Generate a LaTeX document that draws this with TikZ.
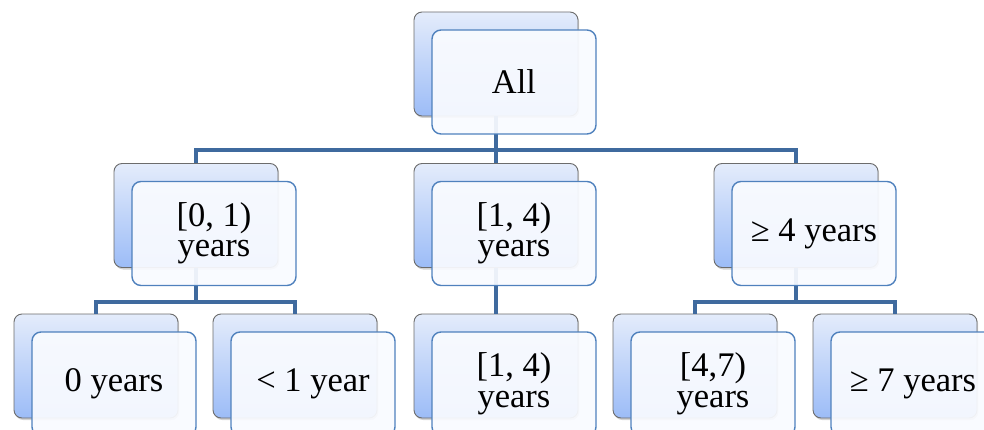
\documentclass[tikz,border=0pt]{standalone}
\usepackage{fontspec}
\setmainfont{Liberation Serif}
\usetikzlibrary{shadows}
\definecolor{connblue}{HTML}{3F6A9E}
\definecolor{frameblue}{HTML}{4F81BD}
\definecolor{shadetop}{HTML}{E4ECFB}
\definecolor{shadebot}{HTML}{9CBCF7}
\definecolor{frontfill}{HTML}{F9FBFF}
\tikzset{
  backbox/.style={rectangle, rounded corners=8pt, minimum width=164pt, minimum height=104pt,
    draw=gray!85!black, line width=0.9pt, top color=shadetop, bottom color=shadebot,
    drop shadow={shadow xshift=1.2pt, shadow yshift=-2pt, opacity=0.35}},
  frontbox/.style={rectangle, rounded corners=9pt, minimum width=164pt, minimum height=104pt,
    draw=frameblue, line width=1.4pt, fill=frontfill, fill opacity=0.93, text opacity=1,
    align=center, font=\fontsize{34.5}{30.5}\selectfont},
  conn/.style={draw=connblue, line width=4pt}
}
\begin{document}
\begin{tikzpicture}[x=1pt, y=-1pt]
\useasboundingbox (0,0) rectangle (984,430);
\clip (0,0) rectangle (984,430);

% back plates
\node[backbox] (b-all) at (496,64) {};
\node[backbox] (b-01)  at (196,215.5) {};
\node[backbox] (b-14)  at (496,215.5) {};
\node[backbox] (b-4p)  at (796,215.5) {};
\node[backbox] (b-0)   at (96,366) {};
\node[backbox] (b-lt1) at (295,366) {};
\node[backbox] (b-14b) at (496,366) {};
\node[backbox] (b-47)  at (695,366) {};
\node[backbox] (b-7p)  at (895,366) {};

% junction points of the tree
\coordinate (j-top)   at (496,150);
\coordinate (j-left)  at (196,302);
\coordinate (j-right) at (796,302);

% connectors
\draw[conn] (b-all.south) -- (j-top);
\draw[conn] (j-top) -| (b-01.north);
\draw[conn] (j-top) -| (b-4p.north);
\draw[conn] (j-top) -- (b-14.north);
\draw[conn] (b-01.south) -- (j-left);
\draw[conn] (j-left) -| (b-0.north);
\draw[conn] (j-left) -| (b-lt1.north);
\draw[conn] (b-14.south) -- (b-14b.north);
\draw[conn] (b-4p.south) -- (j-right);
\draw[conn] (j-right) -| (b-47.north);
\draw[conn] (j-right) -| (b-7p.north);

% front cards with labels
\node[frontbox] (f-all) at (514,82) {All};
\node[frontbox] (f-01)  at (214,233.5) {[0, 1)\\years};
\node[frontbox] (f-14)  at (514,233.5) {[1, 4)\\years};
\node[frontbox] (f-4p)  at (814,233.5) {≥ 4 years};
\node[frontbox] (f-0)   at (114,384) {0 years};
\node[frontbox] (f-lt1) at (313,384) {< 1 year};
\node[frontbox] (f-14b) at (514,384) {[1, 4)\\years};
\node[frontbox] (f-47)  at (713,384) {[4,7)\\years};
\node[frontbox] (f-7p)  at (913,384) {≥ 7 years};
\end{tikzpicture}
\end{document}
